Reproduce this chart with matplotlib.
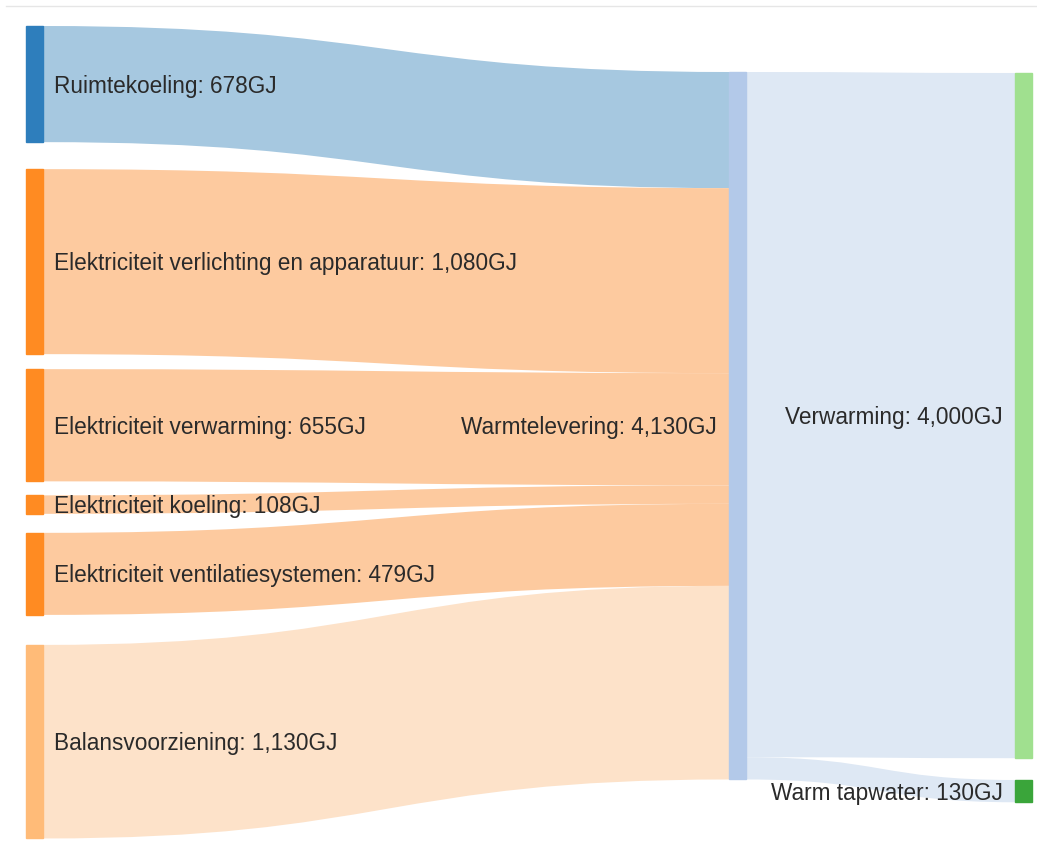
import matplotlib.pyplot as plt
from matplotlib.path import Path
from matplotlib.patches import PathPatch, Rectangle

plt.rcParams['font.family'] = ['Liberation Sans', 'DejaVu Sans']

# data (GJ)
sources = ['Ruimtekoeling', 'Elektriciteit verlichting en apparatuur',
           'Elektriciteit verwarming', 'Elektriciteit koeling',
           'Elektriciteit ventilatiesystemen', 'Balansvoorziening']
source_values = [678, 1080, 655, 108, 479, 1130]
hub = 'Warmtelevering'
targets = ['Verwarming', 'Warm tapwater']
target_values = [4000, 130]

source_node_colors = ['#2e7ebc', '#ff8b22', '#ff8b22', '#ff8b22', '#ff8b22', '#ffbb78']
source_link_colors = ['#a6c8e0', '#fdca9f', '#fdca9f', '#fdca9f', '#fdca9f', '#fde2c9']
hub_color = '#b3c9e9'
hub_link_color = '#dee8f4'
target_colors = ['#a0e08f', '#3aa53a']

# layout (pixels)
W, H = 1037, 852
scale = 0.1713
node_w = 17
x_left, x_mid, x_right = 26, 729, 1015
left_top = 26
left_gaps = [27, 15, 14, 19, 30]
mid_top = 72
right_tops = [73, 780]


def fmt(v):
    return f'{v:,}GJ'


def link(ax, x0, y0a, y0b, x1, y1a, y1b, color):
    xm = (x0 + x1) / 2
    verts = [(x0, y0a), (xm, y0a), (xm, y1a), (x1, y1a),
             (x1, y1b), (xm, y1b), (xm, y0b), (x0, y0b), (x0, y0a)]
    codes = [Path.MOVETO, Path.CURVE4, Path.CURVE4, Path.CURVE4,
             Path.LINETO, Path.CURVE4, Path.CURVE4, Path.CURVE4, Path.CLOSEPOLY]
    ax.add_patch(PathPatch(Path(verts, codes), facecolor=color,
                           edgecolor='none', zorder=1))


fig = plt.figure(figsize=(W / 100, H / 100), dpi=100)
ax = fig.add_axes([0, 0, 1, 1])
ax.set_xlim(0, W)
ax.set_ylim(H, 0)
ax.axis('off')

ax.plot([6, W], [6, 6], color='#e6e6e6', lw=1)

fs = 16.3
tc = '#2a2a2a'
dy = 2  # small nudge so labels sit like the reference

# left nodes and links into hub
y = left_top
mid_y = mid_top
for i, (name, v) in enumerate(zip(sources, source_values)):
    h = v * scale
    link(ax, x_left + node_w, y, y + h, x_mid, mid_y, mid_y + h, source_link_colors[i])
    ax.add_patch(Rectangle((x_left, y), node_w, h, color=source_node_colors[i], zorder=2))
    ax.text(x_left + node_w + 11, y + h / 2 + dy, f'{name}: {fmt(v)}', fontsize=fs,
            color=tc, va='center', ha='left', zorder=3)
    mid_y += h
    y += h
    if i < len(left_gaps):
        y += left_gaps[i]

# hub node
hub_total = sum(source_values)
ax.add_patch(Rectangle((x_mid, mid_top), node_w, hub_total * scale, color=hub_color, zorder=2))
ax.text(x_mid - 12, mid_top + hub_total * scale / 2 + dy, f'{hub}: {fmt(hub_total)}',
        fontsize=fs, color=tc, va='center', ha='right', zorder=3)

# hub to targets
mid_y = mid_top
for i, (name, v) in enumerate(zip(targets, target_values)):
    h = v * scale
    ty = right_tops[i]
    link(ax, x_mid + node_w, mid_y, mid_y + h, x_right, ty, ty + h, hub_link_color)
    ax.add_patch(Rectangle((x_right, ty), node_w, h, color=target_colors[i], zorder=2))
    ax.text(x_right - 12, ty + h / 2 + dy, f'{name}: {fmt(v)}', fontsize=fs,
            color=tc, va='center', ha='right', zorder=3)
    mid_y += h

fig.savefig('out.png', dpi=100)
